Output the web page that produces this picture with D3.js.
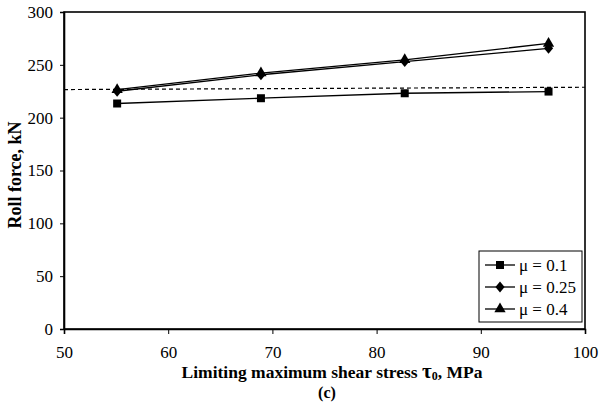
<!DOCTYPE html>
<html>
<head>
<meta charset="utf-8">
<script src="https://cdn.jsdelivr.net/npm/d3@7"></script>
<style>
  html, body { margin: 0; padding: 0; background: #fff; }
  svg { display: block; font-family: "Liberation Serif", "Times New Roman", serif; }
</style>
</head>
<body>
<svg id="chart" width="601" height="408"></svg>
<script>
// Limiting maximum shear stress, MPa
const tau = [55.1, 68.9, 82.7, 96.5];
// Roll force, kN, for each friction coefficient
const force01 = [213.4, 218.4, 223.1, 224.7];
const force025 = [225.0, 240.6, 253.1, 265.6];
const force04 = [226.5, 242.2, 254.7, 270.3];
// Reference (dashed) level across the range
const refX = [50, 100];
const refY = [226.6, 228.8];

const xTicks = [50, 60, 70, 80, 90, 100];
const yTicks = [0, 50, 100, 150, 200, 250, 300];
const seriesLabels = ["μ = 0.1", "μ = 0.25", "μ = 0.4"];
const seriesShapes = ["square", "diamond", "triangle"];

const svg = d3.select("#chart");
const m = { left: 64, right: 585, top: 12, bottom: 329 };

const x = d3.scaleLinear().domain([50, 100]).range([m.left, m.right]);
const y = d3.scaleLinear().domain([0, 300]).range([m.bottom, m.top]);

// plot frame
svg.append("rect")
  .attr("x", m.left).attr("y", m.top)
  .attr("width", m.right - m.left).attr("height", m.bottom - m.top)
  .attr("fill", "none").attr("stroke", "#000").attr("stroke-width", 1.6);

// axes
const xAxis = svg.append("g")
  .attr("transform", `translate(0,${m.bottom})`)
  .call(d3.axisBottom(x).tickValues(xTicks).tickSize(5).tickPadding(12).tickFormat(d3.format("d")));
const yAxis = svg.append("g")
  .attr("transform", `translate(${m.left},0)`)
  .call(d3.axisLeft(y).tickValues(yTicks).tickSize(4).tickPadding(7).tickFormat(d3.format("d")));

[xAxis, yAxis].forEach(g => {
  g.select(".domain").attr("stroke", "#000").attr("stroke-width", 1.6);
  g.selectAll(".tick line").attr("stroke", "#000").attr("stroke-width", 1);
  g.selectAll(".tick text")
    .attr("fill", "#000")
    .style("font-family", "'Liberation Serif', serif")
    .style("font-size", "17px");
});

// dashed reference line
svg.append("line")
  .attr("x1", x(refX[0])).attr("y1", y(refY[0]))
  .attr("x2", x(refX[1])).attr("y2", y(refY[1]))
  .attr("stroke", "#000").attr("stroke-width", 1.2)
  .attr("stroke-dasharray", "4,3");

// a slightly squat diamond marker
const fatDiamond = {
  draw(ctx, size) {
    const h = Math.sqrt(size) * 0.72, w = h * 0.85;
    ctx.moveTo(0, -h); ctx.lineTo(w, 0); ctx.lineTo(0, h); ctx.lineTo(-w, 0); ctx.closePath();
  }
};

const line = d3.line().x((d, i) => x(tau[i])).y(d => y(d));
const symbolOf = {
  square: d3.symbol().type(d3.symbolSquare).size(64),
  diamond: d3.symbol().type(fatDiamond).size(56),
  triangle: d3.symbol().type(d3.symbolTriangle).size(55)
};

const series = [force01, force025, force04];
series.forEach((vals, k) => {
  svg.append("path")
    .datum(vals)
    .attr("d", line)
    .attr("fill", "none")
    .attr("stroke", "#000")
    .attr("stroke-width", 1.3);
  svg.append("g").selectAll("path")
    .data(vals)
    .join("path")
    .attr("transform", (d, i) => `translate(${x(tau[i])},${y(d)})`)
    .attr("d", symbolOf[seriesShapes[k]])
    .attr("fill", "#000");
});

// legend
const lg = { x: 479, y: 251, w: 103, h: 71 };
svg.append("rect")
  .attr("x", lg.x).attr("y", lg.y).attr("width", lg.w).attr("height", lg.h)
  .attr("fill", "#fff").attr("stroke", "#000").attr("stroke-width", 1);
seriesLabels.forEach((lab, k) => {
  const cy = lg.y + 14 + k * 22;
  svg.append("line")
    .attr("x1", lg.x + 6).attr("x2", lg.x + 36)
    .attr("y1", cy).attr("y2", cy)
    .attr("stroke", "#000").attr("stroke-width", 1.3);
  svg.append("path")
    .attr("transform", `translate(${lg.x + 21},${cy})`)
    .attr("d", symbolOf[seriesShapes[k]])
    .attr("fill", "#000");
  svg.append("text")
    .attr("x", lg.x + 40).attr("y", cy + 6)
    .style("font-size", "17px")
    .text(lab);
});

// axis titles
svg.append("text")
  .attr("transform", `translate(21,175) rotate(-90)`)
  .attr("text-anchor", "middle")
  .style("font-size", "18px").style("font-weight", "bold")
  .text("Roll force, kN");

const xt = svg.append("text")
  .attr("x", 332).attr("y", 378)
  .attr("text-anchor", "middle")
  .style("font-size", "17.5px").style("font-weight", "bold");
xt.append("tspan").text("Limiting maximum shear stress ");
xt.append("tspan").style("font-size", "21px").text("τ");
xt.append("tspan").style("font-size", "12px").attr("dy", 2).text("0");
xt.append("tspan").attr("dy", -2).text(", MPa");

svg.append("text")
  .attr("x", 327).attr("y", 398)
  .attr("text-anchor", "middle")
  .style("font-size", "16px").style("font-weight", "bold")
  .text("(c)");
</script>
</body>
</html>
